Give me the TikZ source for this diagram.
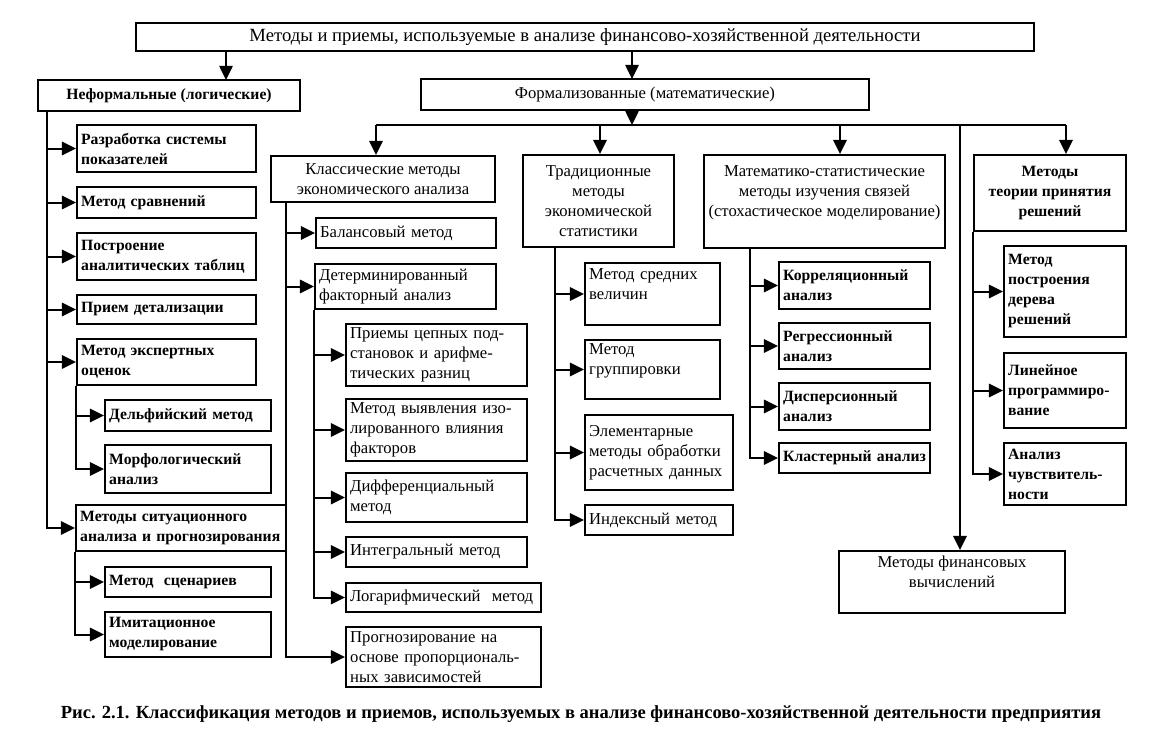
\documentclass[tikz,border=0pt]{standalone}
\usepackage{fontspec}
\setmainfont{Liberation Serif}
\usepackage{tikz}
\usetikzlibrary{arrows.meta}

\begin{document}
\begin{tikzpicture}[x=0.6pt, y=-0.6pt, >={Triangle[length=8.5pt,width=8pt]},
  bx/.style={draw, line width=1.1pt, inner sep=2.5pt, font=\fontsize{10}{12}\selectfont},
  bxb/.style={bx, font=\fontsize{9.4}{12}\selectfont\bfseries},
  ln/.style={line width=1.2pt}]
  \useasboundingbox (0,0) rectangle (1156,747);
  \node[bx, align=center, minimum width=538.8pt, minimum height=16.8pt, font=\fontsize{11.2}{13}\selectfont] (top) at (585,37) {Методы и приемы, используемые в анализе финансово-хозяйственной деятельности};
  \node[bxb, align=center, minimum width=157.2pt, minimum height=18.6pt] (inf) at (169,95.5) {Неформальные (логические)};
  \node[bx, align=center, minimum width=268.8pt, minimum height=18.6pt] (form) at (645,94.5) {Формализованные (математические)};

  \node[bxb, align=left, text width=102.4pt, minimum height=28.2pt] (razr) at (166.5,148.5) {Разработка системы\\показателей};
  \node[bxb, align=left, text width=102.4pt, minimum height=18.6pt] (sravn) at (166.5,202.5) {Метод сравнений};
  \node[bxb, align=left, text width=102.4pt, minimum height=28.2pt] (postr) at (166.5,256.5) {Построение\\аналитических~таблиц};
  \node[bxb, align=left, text width=102.4pt, minimum height=17.4pt] (detal) at (166.5,309.5) {Прием детализации};
  \node[bxb, align=left, text width=102.4pt, minimum height=27.6pt] (expert) at (166.5,362) {Метод экспертных\\оценок};
  \node[bxb, align=left, text width=94.6pt, minimum height=18.6pt] (delph) at (188,415.5) {Дельфийский метод};
  \node[bxb, align=left, text width=94.6pt, minimum height=28.8pt] (morph) at (188,469) {Морфологический\\анализ};
  \node[bxb, align=left, text width=121pt, minimum height=27.6pt] (sit) at (181,528) {Методы ситуационного\\анализа~и~прогнозирования};
  \node[bxb, align=left, text width=94.6pt, minimum height=18pt] (scen) at (188,582) {Метод\ \ сценариев};
  \node[bxb, align=left, text width=94.6pt, minimum height=27pt] (imit) at (188,634.5) {Имитационное\\моделирование};

  \node[bx, align=center, minimum width=134.4pt, minimum height=27.6pt] (klass) at (383,179) {Классические методы\\экономического анализа};
  \node[bx, align=left, text width=103pt, minimum height=18pt] (bal) at (406,233) {Балансовый метод};
  \node[bx, align=left, text width=103.6pt, minimum height=27pt] (det) at (405.5,286.5) {Детерминированный\\факторный анализ};
  \node[bx, align=left, text width=103.6pt, minimum height=36pt] (chain) at (436.5,355) {Приемы цепных под-\\становок и арифме-\\тических разниц};
  \node[bx, align=left, text width=103.6pt, minimum height=36pt] (isol) at (436.5,430) {Метод выявления изо-\\лированного влияния\\факторов};
  \node[bx, align=left, text width=103.6pt, minimum height=29.4pt] (diff) at (436.5,497.5) {Дифференциальный\\метод};
  \node[bx, align=left, text width=103.6pt, minimum height=18pt] (integ) at (436.5,552) {Интегральный метод};
  \node[bx, align=left, text width=112pt, minimum height=17.4pt] (logar) at (443.5,597.5) {Логарифмический\ \ метод};
  \node[bx, align=left, text width=112pt, minimum height=36pt] (prog) at (443.5,657) {Прогнозирование на\\основе пропорциональ-\\ных зависимостей};

  \node[bx, align=center, minimum width=90.6pt, minimum height=55.2pt] (trad) at (598.5,201) {Традиционные\\методы\\экономической\\статистики};
  \node[bx, align=left, text width=76pt, minimum height=37.2pt] (avg) at (652.5,294) {Метод средних\\величин\\~};
  \node[bx, align=left, text width=76pt, minimum height=35.4pt] (grp) at (652.5,369.5) {Метод\\группировки\\~};
  \node[bx, align=left, text width=83.8pt, minimum height=45pt] (elem) at (659,452.5) {Элементарные\\методы обработки\\расчетных данных};
  \node[bx, align=left, text width=83.8pt, minimum height=18pt] (index) at (659,520) {Индексный метод};

  \node[bx, align=center, minimum width=143.4pt, minimum height=55.8pt] (stat) at (824.5,201.5) {Математико-статистические\\методы изучения связей\\(стохастическое моделирование)\\~};
  \node[bxb, align=left, text width=85.6pt, minimum height=28.2pt] (corr) at (854.5,285.5) {Корреляционный\\анализ};
  \node[bxb, align=left, text width=85.6pt, minimum height=27.6pt] (regr) at (854.5,346) {Регрессионный\\анализ};
  \node[bxb, align=left, text width=85.6pt, minimum height=28.2pt] (disp) at (854.5,406.5) {Дисперсионный\\анализ};
  \node[bxb, align=left, text width=85.6pt, minimum height=18pt] (clust) at (854.5,458) {Кластерный~анализ};

  \node[bxb, align=center, minimum width=91.2pt, minimum height=45.6pt] (dec) at (1050,193) {Методы\\теории принятия\\решений};
  \node[bxb, align=left, text width=68.2pt, minimum height=54.6pt] (tree) at (1065,291.5) {Метод\\построения\\дерева\\решений};
  \node[bxb, align=left, text width=68.2pt, minimum height=45pt] (lin) at (1065,390.5) {Линейное\\программиро-\\вание};
  \node[bxb, align=left, text width=68.2pt, minimum height=37.2pt] (sens) at (1065,474) {Анализ\\чувствитель-\\ности};
  \node[bx, align=center, minimum width=135.6pt, minimum height=37.2pt] (fin) at (952,582) {Методы финансовых\\вычислений\\~};

  \node[font=\fontsize{11.1}{13}\selectfont\bfseries] (cap) at (581,714) {Рис. 2.1. Классификация методов и приемов, используемых в анализе финансово-хозяйственной деятельности предприятия};

  \coordinate (infIn) at (226,80);
  \coordinate (formIn) at (632,79);
  \coordinate (infT) at (47,111);
  \coordinate (klassT) at (286,202);
  \coordinate (tradT) at (555,247);
  \coordinate (statT) at (750,248);
  \coordinate (bus1) at (376,125);
  \coordinate (bus2) at (600,125);
  \coordinate (bus3) at (840,125);
  \coordinate (bus4) at (960,125);
  \coordinate (bus5) at (1066,125);

  \draw[ln, ->] (top.south -| infIn) -- (infIn);
  \draw[ln, ->] (top.south -| formIn) -- (formIn);
  \draw[ln, ->] (formIn |- form.south) -- (formIn |- bus1);
  \draw[ln] (bus1) -- (bus5);
  \draw[ln, ->] (bus1) -- (bus1 |- klass.north);
  \draw[ln, ->] (bus2) -- (bus2 |- trad.north);
  \draw[ln, ->] (bus3) -- (bus3 |- stat.north);
  \draw[ln, ->] (bus4) -- (bus4 |- fin.north);
  \draw[ln, ->] (bus5) -- (bus5 |- dec.north);

  \draw[ln, ->] (infT) |- (razr.west);
  \draw[ln, ->] (infT) |- (sravn.west);
  \draw[ln, ->] (infT) |- (postr.west);
  \draw[ln, ->] (infT) |- (detal.west);
  \draw[ln, ->] (infT) |- (expert.west);
  \draw[ln, ->] (infT) |- (sit.west);
  \draw[ln, ->] (expert.south west) |- (delph.west);
  \draw[ln, ->] (expert.south west) |- (morph.west);
  \draw[ln, ->] (sit.south west) |- (scen.west);
  \draw[ln, ->] (sit.south west) |- (imit.west);

  \draw[ln, ->] (klassT) |- (bal.west);
  \draw[ln, ->] (klassT) |- (det.west);
  \draw[ln, ->] (klassT) |- (prog.west);
  \draw[ln, ->] (det.south west) |- (chain.west);
  \draw[ln, ->] (det.south west) |- (isol.west);
  \draw[ln, ->] (det.south west) |- (diff.west);
  \draw[ln, ->] (det.south west) |- (integ.west);
  \draw[ln, ->] (det.south west) |- (logar.west);

  \draw[ln, ->] (tradT) |- (avg.west);
  \draw[ln, ->] (tradT) |- (grp.west);
  \draw[ln, ->] (tradT) |- (elem.west);
  \draw[ln, ->] (tradT) |- (index.west);

  \draw[ln, ->] (statT) |- (corr.west);
  \draw[ln, ->] (statT) |- (regr.west);
  \draw[ln, ->] (statT) |- (disp.west);
  \draw[ln, ->] (statT) |- (clust.west);

  \draw[ln, ->] (dec.south west) |- (tree.west);
  \draw[ln, ->] (dec.south west) |- (lin.west);
  \draw[ln, ->] (dec.south west) |- (sens.west);
\end{tikzpicture}
\end{document}
